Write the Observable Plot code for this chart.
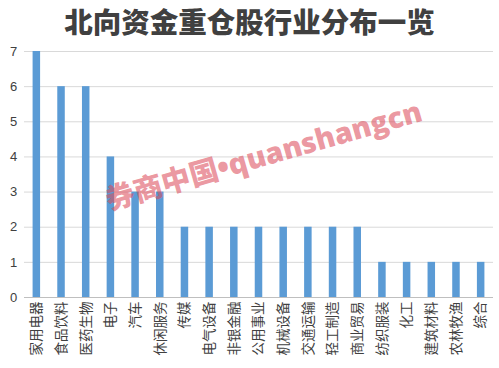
<!DOCTYPE html>
<html>
<head>
<meta charset="utf-8">
<script src="https://cdn.jsdelivr.net/npm/d3@7"></script>
<script src="https://cdn.jsdelivr.net/npm/@observablehq/plot@0.6"></script>
<style>
  html, body { margin: 0; padding: 0; background: #fff; }
  #wrap { position: relative; width: 499px; height: 368px; overflow: hidden; }
  #title { position: absolute; left: 0; top: 7px; width: 499px; text-align: center; line-height: 28px;
    font-family: "Noto Sans CJK SC", sans-serif; font-weight: 900; font-size: 28.5px; color: #404040; }
  #wm { position: absolute; left: 106px; top: 186px; line-height: 28px; transform-origin: 0 50%; transform: rotate(-16deg);
    font-family: "Open Sans", "Noto Sans CJK SC", sans-serif; font-weight: 800; font-size: 29px; color: rgba(220, 75, 90, 0.58); white-space: nowrap; }
</style>
</head>
<body>
<div id="wrap">
  <div id="chart"></div>
  <div id="title"></div>
  <div id="wm"></div>
</div>
<script>
const titleText = "北向资金重仓股行业分布一览";
const watermark = "券商中国•quanshangcn";
const categories = ["家用电器","食品饮料","医药生物","电子","汽车","休闲服务","传媒","电气设备","非银金融","公用事业","机械设备","交通运输","轻工制造","商业贸易","纺织服装","化工","建筑材料","农林牧渔","综合"];
const values = [7,6,6,4,3,3,2,2,2,2,2,2,2,2,1,1,1,1,1];
const yTicks = [0,1,2,3,4,5,6,7];

const data = categories.map((c, i) => ({category: c, value: values[i]}));

const chart = Plot.plot({
  width: 499,
  height: 368,
  marginTop: 51,
  marginBottom: 71,
  marginLeft: 24,
  marginRight: 6,
  style: {fontFamily: "'Noto Sans CJK SC', sans-serif", fontSize: "12px", color: "#404040", background: "#fff"},
  x: {domain: categories, paddingInner: 0.696, paddingOuter: 0.348, round: false, label: null},
  y: {domain: [0, 7], label: null},
  marks: [
    Plot.gridY(yTicks, {stroke: "#d9d9d9", strokeOpacity: 1}),
    Plot.barY(data, {x: "category", y: "value", fill: "#5b9bd5"}),
    Plot.ruleY([0], {stroke: "#bfbfbf"}),
    Plot.axisY(yTicks, {tickSize: 0, tickPadding: 6, fontSize: 13, fill: "#404040", textAnchor: "middle", dx: -5, fontFamily: "'Liberation Sans', sans-serif"}),
    Plot.axisX({tickSize: 0, tickPadding: 4, tickRotate: -90, fontSize: 13.5, fill: "#404040"})
  ]
});
document.getElementById("chart").appendChild(chart);
document.getElementById("title").textContent = titleText;
document.getElementById("wm").textContent = watermark;
</script>
</body>
</html>
